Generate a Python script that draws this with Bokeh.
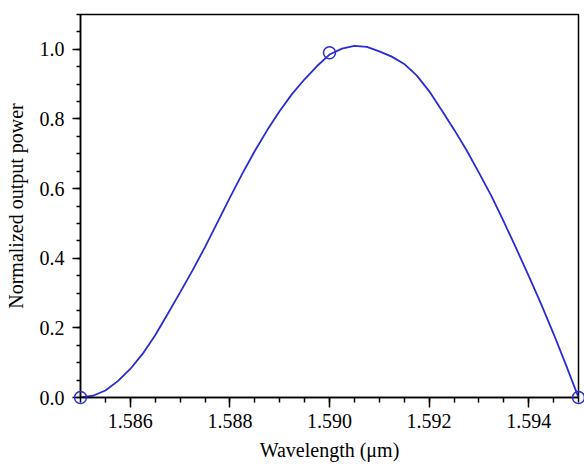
from bokeh.plotting import figure
from bokeh.models import FixedTicker, Range1d, PrintfTickFormatter
from bokeh.embed import file_html
from bokeh.resources import INLINE

# Data
wavelength = [1.58500, 1.58525, 1.58550, 1.58575, 1.58600, 1.58625, 1.58650,
              1.58675, 1.58700, 1.58725, 1.58750, 1.58775, 1.58800, 1.58825,
              1.58850, 1.58875, 1.58900, 1.58925, 1.58950, 1.58975, 1.59000,
              1.59025, 1.59050, 1.59075, 1.59100, 1.59125, 1.59150, 1.59175,
              1.59200, 1.59225, 1.59250, 1.59275, 1.59300, 1.59325, 1.59350,
              1.59375, 1.59400, 1.59425, 1.59450, 1.59475, 1.59500]
power = [0.000, 0.005, 0.020, 0.047, 0.082, 0.126, 0.179,
         0.240, 0.302, 0.365, 0.432, 0.503, 0.574, 0.643,
         0.708, 0.768, 0.823, 0.872, 0.914, 0.952, 0.985,
         1.002, 1.010, 1.007, 0.994, 0.979, 0.958, 0.925,
         0.880, 0.826, 0.770, 0.711, 0.646, 0.579, 0.505,
         0.428, 0.349, 0.268, 0.183, 0.093, 0.000]
marker_x = [1.585, 1.590, 1.595]
marker_y = [0.0, 0.99, 0.0]

x_major = [1.586, 1.588, 1.590, 1.592, 1.594]
x_minor = [round(1.585 + 0.0005 * i, 4) for i in range(21)]
y_major = [0.0, 0.2, 0.4, 0.6, 0.8, 1.0]
y_minor = [round(0.05 * i, 2) for i in range(23)]

FONT = "Liberation Serif"
BLUE = "#2b2bd6"

p = figure(frame_width=498, frame_height=383, output_backend="svg",
           toolbar_location=None, x_range=Range1d(1.585, 1.595),
           y_range=Range1d(0.0, 1.1),
           min_border_left=80, min_border_right=6, min_border_top=14,
           min_border_bottom=67)
p.xgrid.visible = False
p.ygrid.visible = False
p.outline_line_color = "black"
p.outline_line_width = 1.5
p.background_fill_color = "white"
p.border_fill_color = "white"

p.line(wavelength, power, line_color=BLUE, line_width=1.8)
p.scatter(marker_x, marker_y, marker="circle", size=12, fill_color=None,
          line_color=BLUE, line_width=1.5, level="overlay")

for ax in (p.xaxis[0], p.yaxis[0]):
    ax.axis_line_color = "black"
    ax.axis_line_width = 1.5
    ax.major_tick_line_width = 1.5
    ax.minor_tick_line_width = 1.5
    ax.major_tick_in = 0
    ax.minor_tick_in = 0
    ax.major_label_text_font = FONT
    ax.major_label_text_font_size = "20px"
    ax.major_label_text_color = "black"
    ax.axis_label_text_font = FONT
    ax.axis_label_text_font_size = "20px"
    ax.axis_label_text_font_style = "normal"
    ax.axis_label_text_color = "black"

p.xaxis[0].ticker = FixedTicker(ticks=x_major, minor_ticks=x_minor)
p.xaxis[0].formatter = PrintfTickFormatter(format="%.3f")
p.xaxis[0].major_tick_out = 10
p.xaxis[0].minor_tick_out = 5
p.xaxis[0].major_label_standoff = 6
p.xaxis[0].axis_label = "Wavelength (μm)"
p.xaxis[0].axis_label_standoff = 8

p.yaxis[0].ticker = FixedTicker(ticks=y_major, minor_ticks=y_minor)
p.yaxis[0].formatter = PrintfTickFormatter(format="%.1f")
p.yaxis[0].major_tick_out = 8
p.yaxis[0].minor_tick_out = 4
p.yaxis[0].major_label_standoff = 8
p.yaxis[0].axis_label = "Normalized output power"
p.yaxis[0].axis_label_standoff = 10

open("out.html", "w").write(file_html(p, INLINE))
